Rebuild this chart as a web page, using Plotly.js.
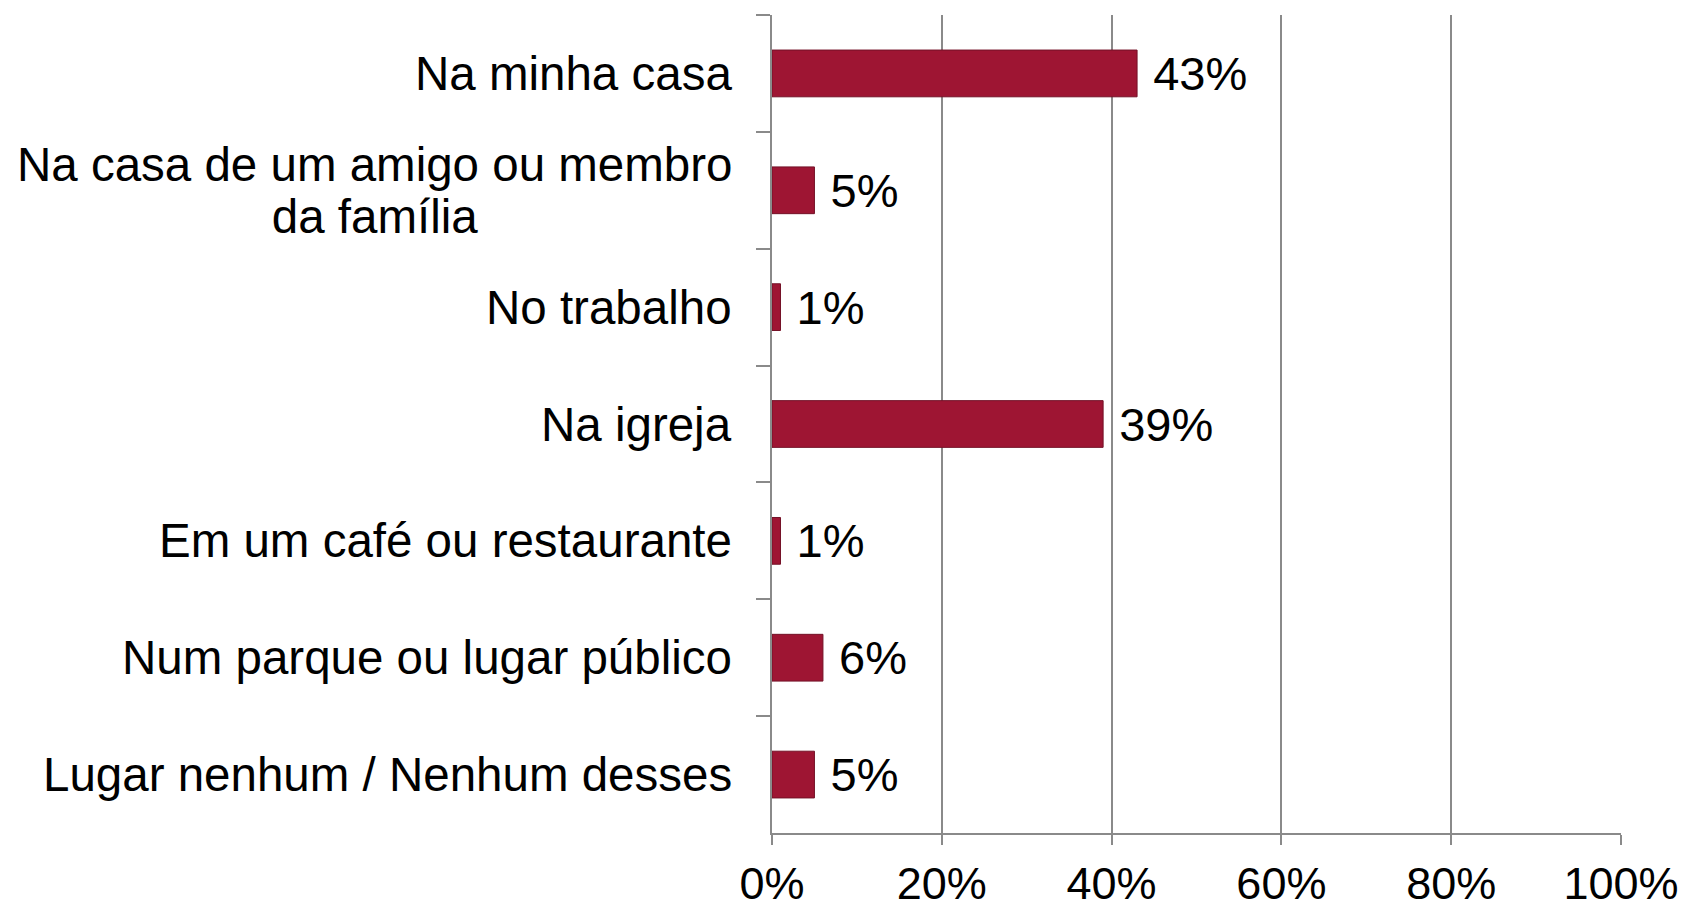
<!DOCTYPE html>
<html>
<head>
<meta charset="utf-8">
<script src="https://cdn.plot.ly/plotly-3.0.1.min.js"></script>
<style>html,body{margin:0;padding:0;background:#fff;}#chart{width:1686px;height:909px;}</style>
</head>
<body>
<div id="chart"></div>
<script>
const categories = [
  "Na minha casa",
  "Na casa de um amigo ou membro<br>da família",
  "No trabalho",
  "Na igreja",
  "Em um café ou restaurante",
  "Num parque ou lugar público",
  "Lugar nenhum / Nenhum desses"
];
const values = [43, 5, 1, 39, 1, 6, 5];
const xTickValues = [0, 20, 40, 60, 80, 100];
const xTickLabels = ["0%", "20%", "40%", "60%", "80%", "100%"];

const FONT = "Liberation Sans, Arial, sans-serif";
const GRID = "#8a8a8a";

const trace = {
  type: "bar",
  orientation: "h",
  y: categories,
  x: values,
  marker: { color: "#9e1533", line: { color: "#741127", width: 1 } },
  texttemplate: "\u00a0%{x}%",
  textposition: "outside",
  textfont: { family: FONT, size: 47, color: "#000" },
  constraintext: "none",
  cliponaxis: false,
  hoverinfo: "none"
};

const annotations = categories.map(c => ({
  xref: "paper", yref: "y", x: 0, y: c,
  text: c.split("<br>").map(s => '<span style="font-size:47.5px">' + s + '</span>').join("<br>"),
  showarrow: false, xanchor: "right", yanchor: "middle",
  align: "center", xshift: -38,
  font: { family: FONT, size: 40, color: "#000" }
}));

const layout = {
  width: 1686, height: 909,
  margin: { l: 772, r: 65, t: 15, b: 76, pad: 0 },
  paper_bgcolor: "#fff", plot_bgcolor: "#fff",
  bargap: 0.6,
  showlegend: false,
  font: { family: FONT, color: "#000" },
  xaxis: {
    range: [0, 100],
    tickvals: xTickValues, ticktext: xTickLabels,
    showgrid: true, gridcolor: GRID, gridwidth: 2,
    zeroline: false,
    showline: true, linecolor: GRID, linewidth: 2,
    ticks: "outside", ticklen: 10, tickcolor: GRID, tickwidth: 2,
    ticklabelstandoff: 0,
    tickfont: { family: FONT, size: 45, color: "#000" },
    fixedrange: true
  },
  yaxis: {
    type: "category",
    range: [6.5, -0.5],
    showgrid: false, zeroline: false,
    showline: true, linecolor: GRID, linewidth: 2,
    ticks: "outside", tickson: "boundaries", ticklen: 14, tickcolor: GRID, tickwidth: 2,
    showticklabels: false,
    fixedrange: true
  },
  annotations: annotations
};

Plotly.newPlot("chart", [trace], layout, { displayModeBar: false, staticPlot: true });
</script>
</body>
</html>
